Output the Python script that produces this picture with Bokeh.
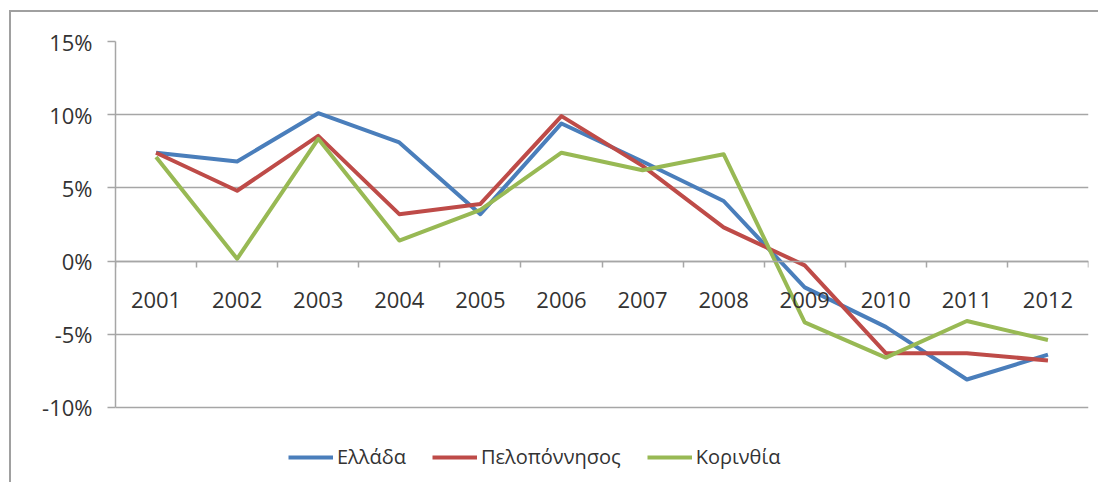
from bokeh.plotting import figure
from bokeh.models import (LinearAxis, FixedTicker, PrintfTickFormatter, Range1d,
                          Legend, LegendItem)
from bokeh.embed import file_html
from bokeh.resources import INLINE

years = ["2001", "2002", "2003", "2004", "2005", "2006",
         "2007", "2008", "2009", "2010", "2011", "2012"]
ellada = [7.4, 6.8, 10.1, 8.1, 3.2, 9.4, 6.8, 4.1, -1.8, -4.5, -8.1, -6.4]
peloponnisos = [7.4, 4.8, 8.55, 3.2, 3.9, 9.9, 6.5, 2.3, -0.3, -6.3, -6.3, -6.8]
korinthia = [7.1, 0.15, 8.35, 1.4, 3.5, 7.4, 6.2, 7.3, -4.2, -6.6, -4.1, -5.4]
series_names = ["Ελλάδα", "Πελοπόννησος", "Κορινθία"]
y_ticks = [-10, -5, 0, 5, 10, 15]

colors = ["#4A7EBB", "#BE4B48", "#98B954"]
FONT = "Open Sans"
TEXT = "#333333"
GRID = "#a6a6a6"

xs = [i + 0.5 for i in range(len(years))]

# the frame reaches below -10% to leave room for the legend inside it
p = figure(width=1089, height=472, output_backend="svg", toolbar_location=None,
           x_range=Range1d(0, len(years)), y_range=Range1d(-15, y_ticks[-1]),
           min_border_left=104, min_border_right=12, min_border_top=29, min_border_bottom=4)
p.outline_line_color = None
p.background_fill_color = "white"
p.border_fill_color = "white"
p.styles = {"border-left": "2px solid #a0a0a0", "border-top": "2px solid #a0a0a0",
            "margin-top": "10px", "margin-left": "9px"}

# y axis
p.yaxis.ticker = FixedTicker(ticks=y_ticks)
p.yaxis.bounds = (y_ticks[0], y_ticks[-1])
p.yaxis.formatter = PrintfTickFormatter(format="%d%%")
p.yaxis.axis_line_color = GRID
p.yaxis.axis_line_width = 1.5
p.yaxis.major_tick_line_color = GRID
p.yaxis.major_tick_line_width = 1.5
p.yaxis.major_tick_out = 8
p.yaxis.major_tick_in = 0
p.yaxis.minor_tick_line_color = None
p.yaxis.major_label_text_font = FONT
p.yaxis.major_label_text_font_size = "22px"
p.yaxis.major_label_text_color = TEXT
p.yaxis.major_label_standoff = 15

p.ygrid.ticker = FixedTicker(ticks=y_ticks)
p.ygrid.grid_line_color = GRID
p.ygrid.grid_line_width = 1.5
p.xgrid.grid_line_color = None

# x axis (category boundaries with tick marks) crossing at 0
xa = p.xaxis[0]
xa.ticker = FixedTicker(ticks=list(range(len(years) + 1)))
xa.fixed_location = 0
xa.axis_line_color = GRID
xa.axis_line_width = 1.5
xa.major_tick_line_color = GRID
xa.major_tick_line_width = 1.5
xa.major_tick_out = 6
xa.major_tick_in = 0
xa.minor_tick_line_color = None
xa.major_label_text_font_size = "0px"
xa.major_label_text_alpha = 0

# x axis labels at category centres
xl = LinearAxis(ticker=FixedTicker(ticks=xs),
                major_label_overrides={x: y for x, y in zip(xs, years)})
xl.fixed_location = 0
xl.axis_line_color = None
xl.major_tick_line_color = None
xl.minor_tick_line_color = None
xl.major_label_text_font = FONT
xl.major_label_text_font_size = "22px"
xl.major_label_text_color = TEXT
xl.major_label_standoff = 25
p.add_layout(xl, "below")

renderers = []
for vals, c in zip([ellada, peloponnisos, korinthia], colors):
    r = p.line(xs, vals, line_color=c, line_width=4, line_join="round")
    renderers.append(r)

legend = Legend(items=[LegendItem(label=n, renderers=[r]) for n, r in zip(series_names, renderers)],
                orientation="horizontal", location=(173, 10),
                label_text_font=FONT, label_text_font_size="20px", label_text_color=TEXT,
                glyph_width=45, glyph_height=24, label_height=24, label_standoff=4, spacing=26,
                padding=0, margin=0, border_line_color=None, background_fill_alpha=0)
p.add_layout(legend, "center")

open("out.html", "w").write(file_html(p, INLINE))
